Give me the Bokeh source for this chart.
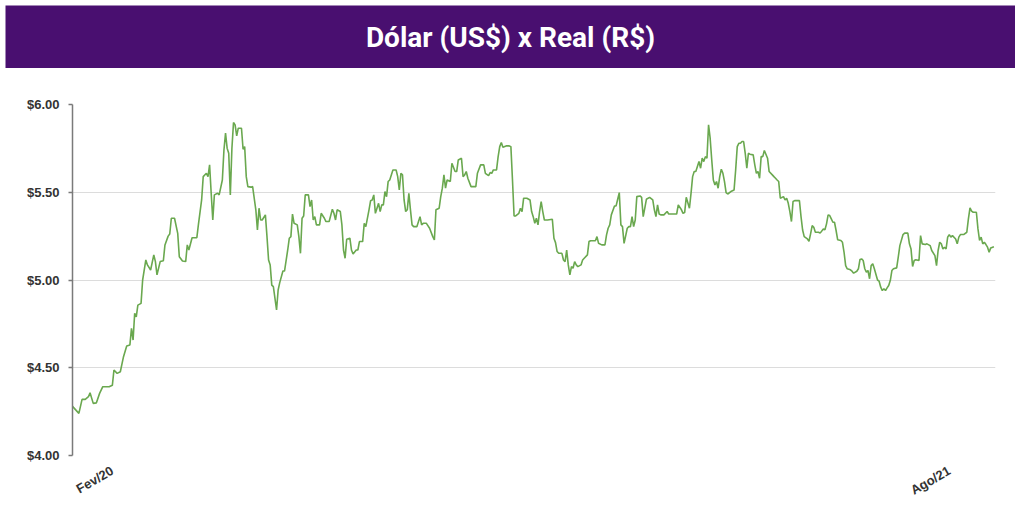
import pandas as pd
from math import pi
from bokeh.plotting import figure
from bokeh.models import Range1d, FixedTicker, NumeralTickFormatter, Label
from bokeh.layouts import column
from bokeh.embed import file_html
from bokeh.resources import INLINE

title_text = "Dólar (US$) x Real (R$)"
start_date = "2020-02-01"

day_offsets = [
    2, 4, 6, 8, 10, 12, 13, 15, 17, 19, 21, 25, 27, 28, 30, 32, 34, 36, 38, 39,
    40, 41, 42, 43, 45, 46, 48, 49, 51, 53, 54, 55, 57, 59, 60, 62, 63, 64, 66, 68,
    69, 71, 73, 74, 75, 77, 80, 81, 83, 84, 86, 87, 88, 89, 90, 91, 93, 94, 96, 97,
    98, 99, 100, 101, 102, 103, 104, 105, 106, 108, 109, 110, 111, 112, 114,
    115, 117, 118, 119, 120, 121, 123, 124, 125, 126, 127, 128, 130, 131, 132, 134, 135, 137, 138, 139,
    140, 141, 143, 144, 145, 146, 147, 148, 150, 151, 152, 153, 154, 155, 157, 158, 160, 161, 163, 165,
    166, 167, 168, 170, 171, 172, 173, 174, 176, 177, 178, 180, 181, 182, 184, 185, 186, 188, 189, 190,
    191, 192, 194, 195, 196, 197, 198, 199, 200, 201, 203, 205, 206, 207, 208, 209, 210, 211, 212, 213,
    214, 215, 216, 218, 220, 221, 222, 224, 226, 228, 229, 230,
    232, 233, 234, 235, 236, 237, 239, 240, 242, 243, 244, 246, 247, 248, 249, 250, 252, 255, 256, 258,
    260, 261, 263, 264, 265, 266, 268, 269, 270, 271, 272, 274, 276, 277, 278, 279, 280, 282, 283, 284,
    285, 287, 289, 290, 291, 292, 293, 294, 295, 296, 297, 298, 300, 303, 304, 305, 306, 307, 309, 310,
    311, 312, 313, 314, 315, 316, 317, 318, 319, 321, 322, 323, 325, 326, 327, 330, 331, 332, 334, 336,
    337, 338, 339, 340, 342, 343, 344, 345,
    346, 347, 348, 350, 351, 352, 353, 354, 355, 356, 358, 359, 360, 361, 362, 364, 366, 367, 368, 369,
    370, 371, 373, 375, 376, 379, 381, 382, 384, 385, 386, 387, 389, 390, 391, 392, 393, 395, 396, 397,
    398, 399, 400, 401, 402, 403, 404, 405, 406, 407, 408, 409, 410, 411, 412, 413, 415, 417, 418, 419,
    420, 421, 422, 423, 424, 425, 426, 427, 429, 430, 431, 432, 433, 434, 435, 436, 438, 439, 441, 442,
    443, 444, 445, 446, 448, 449, 450, 451, 452, 453, 454, 455, 458, 459, 460, 461,
    463, 464, 465, 466, 467, 468, 470, 471, 473, 474, 475, 476, 477, 478, 479, 480, 481, 482, 484, 485,
    486, 487, 488, 490, 491, 492, 494, 495, 496, 497, 498, 499, 500, 501, 502, 503, 504, 505, 507, 508,
    509, 510, 511, 512, 513, 514, 515, 516, 517, 519, 520, 521, 523, 524, 526, 527, 528, 529, 530, 531,
    533, 534, 535, 537, 538, 540, 541, 543, 544, 545, 546, 547, 548, 549, 550, 551, 552, 553, 554, 556,
    557, 558, 559, 561, 563, 564, 565, 566, 567, 569, 570, 571, 572, 573, 574, 575, 576, 577, 578, 580,
]

usd_brl = [
    4.28, 4.26, 4.24, 4.32, 4.32, 4.335, 4.357, 4.297, 4.30, 4.354, 4.392, 4.392, 4.40, 4.487, 4.468, 4.477, 4.563, 4.624, 4.63, 4.724,
    4.658, 4.81, 4.79, 4.857, 4.867, 5.00, 5.114, 5.086, 5.057, 5.143, 5.105, 5.029, 5.105, 5.11, 5.20, 5.25, 5.262, 5.352, 5.352, 5.266,
    5.133, 5.108, 5.105, 5.20, 5.171, 5.241, 5.241, 5.317, 5.456, 5.589, 5.608, 5.589, 5.656, 5.494, 5.342, 5.485, 5.494, 5.485, 5.57, 5.741,
    5.837, 5.751, 5.722, 5.485, 5.751, 5.897, 5.884, 5.821, 5.865, 5.865, 5.745, 5.76, 5.589, 5.532, 5.529,
    5.532, 5.40, 5.285, 5.409, 5.342, 5.342, 5.371, 5.247, 5.114, 5.086, 4.971, 4.962, 4.829, 4.943, 4.985, 5.051, 5.051, 5.171, 5.238, 5.247,
    5.376, 5.323, 5.314, 5.247, 5.152, 5.352, 5.365, 5.485, 5.485, 5.418, 5.456, 5.342, 5.361, 5.314, 5.314, 5.38, 5.352, 5.333, 5.333, 5.403,
    5.38, 5.342, 5.40, 5.39, 5.314, 5.171, 5.124, 5.232, 5.238, 5.171, 5.148, 5.171, 5.171, 5.219, 5.219, 5.323, 5.304, 5.40, 5.452, 5.456,
    5.485, 5.38, 5.437, 5.39, 5.428, 5.428, 5.504, 5.475, 5.561, 5.57, 5.627, 5.627, 5.589, 5.513, 5.608, 5.599, 5.456, 5.39, 5.40, 5.494,
    5.40, 5.314, 5.304, 5.304, 5.361, 5.314, 5.323, 5.323, 5.295, 5.247, 5.228, 5.40,
    5.409, 5.475, 5.523, 5.599, 5.523, 5.57, 5.561, 5.665, 5.618, 5.618, 5.684, 5.694, 5.589, 5.599, 5.618, 5.58, 5.532, 5.532, 5.608, 5.656,
    5.656, 5.608, 5.595, 5.612, 5.608, 5.627, 5.627, 5.703, 5.76, 5.783, 5.757, 5.764, 5.764, 5.76, 5.57, 5.365, 5.365, 5.38, 5.409, 5.39,
    5.466, 5.466, 5.456, 5.39, 5.361, 5.323, 5.352, 5.314, 5.39, 5.447, 5.39, 5.342, 5.342, 5.346, 5.238, 5.213, 5.162, 5.152, 5.152, 5.114,
    5.105, 5.171, 5.086, 5.029, 5.076, 5.067, 5.105, 5.086, 5.076, 5.086, 5.114, 5.124, 5.143, 5.219, 5.224, 5.224, 5.247, 5.209, 5.20, 5.20,
    5.257, 5.295, 5.314, 5.371, 5.422, 5.422, 5.46, 5.498,
    5.314, 5.304, 5.209, 5.295, 5.304, 5.304, 5.361, 5.304, 5.342, 5.475, 5.479, 5.471, 5.361, 5.409, 5.46, 5.471, 5.456, 5.40, 5.361, 5.428,
    5.376, 5.371, 5.371, 5.39, 5.376, 5.376, 5.376, 5.428, 5.40, 5.38, 5.384, 5.471, 5.409, 5.494, 5.589, 5.618, 5.618, 5.675, 5.637, 5.694,
    5.675, 5.703, 5.694, 5.884, 5.808, 5.684, 5.57, 5.542, 5.561, 5.523, 5.589, 5.631, 5.608, 5.561, 5.498, 5.49, 5.504, 5.513, 5.627, 5.76,
    5.779, 5.779, 5.789, 5.789, 5.722, 5.637, 5.722, 5.717, 5.713, 5.656, 5.608, 5.618, 5.58, 5.703, 5.703, 5.738, 5.694, 5.618, 5.599, 5.589,
    5.58, 5.57, 5.561, 5.466, 5.475, 5.456, 5.466, 5.437, 5.39, 5.333, 5.447, 5.452, 5.452, 5.361, 5.285, 5.247,
    5.234, 5.221, 5.263, 5.31, 5.30, 5.272, 5.272, 5.267, 5.291, 5.286, 5.32, 5.371, 5.367, 5.348, 5.329, 5.329, 5.282, 5.229, 5.225, 5.215,
    5.158, 5.082, 5.064, 5.058, 5.05, 5.039, 5.05, 5.064, 5.117, 5.12, 5.111, 5.064, 5.045, 5.054, 5.007, 5.082, 5.092, 5.064, 5.00, 4.993,
    4.959, 4.94, 4.95, 4.94, 4.955, 4.969, 4.997, 5.054, 5.064, 5.069, 5.13, 5.196, 5.259, 5.267, 5.267, 5.206, 5.177, 5.077, 5.111, 5.115,
    5.111, 5.253, 5.206, 5.202, 5.206, 5.196, 5.168, 5.139, 5.082, 5.168, 5.215, 5.206, 5.177, 5.187, 5.177, 5.244, 5.259, 5.244, 5.253, 5.234,
    5.206, 5.244, 5.259, 5.259, 5.272, 5.348, 5.411, 5.392, 5.386, 5.386, 5.291, 5.225, 5.244, 5.206, 5.215, 5.202, 5.187, 5.158, 5.183, 5.19,
]

y_ticks = [4.0, 4.5, 5.0, 5.5, 6.0]
x_tick_dates = ["2020-02-28", "2021-08-06"]
x_tick_labels = ["Fev/20", "Ago/21"]

dates = pd.Timestamp(start_date) + pd.to_timedelta(day_offsets, unit="D")
tick_ms = [int(pd.Timestamp(d).value // 10**6) for d in x_tick_dates]

PURPLE = "#490f70"

# Title bar (5px inset from the page corner, like the reference)
t = figure(width=1010, height=63, output_backend="svg", toolbar_location=None,
           x_axis_type=None, y_axis_type=None, x_range=Range1d(0, 1), y_range=Range1d(0, 1),
           min_border=0, background_fill_color=PURPLE, border_fill_color=PURPLE,
           margin=(5, 0, 0, 5))
t.frame_align = False
t.outline_line_color = None
t.add_layout(Label(x=0.5, y=0.5, text=title_text,
                   text_align="center", text_baseline="middle",
                   text_color="white", text_font="Roboto", text_font_style="bold",
                   text_font_size="28px"))

# Chart
p = figure(width=1015, height=450, output_backend="svg", toolbar_location=None,
           x_axis_type="datetime",
           x_range=Range1d(dates[0], dates[-1] + pd.Timedelta(days=1)),
           y_range=Range1d(4.0, 6.0),
           min_border_left=72, min_border_right=20, min_border_top=36, min_border_bottom=63)
p.frame_align = False
p.outline_line_color = None
p.background_fill_color = "white"

p.line(dates, usd_brl, line_color="#6aa84f", line_width=1.6)

p.xgrid.visible = False
p.ygrid.grid_line_color = "#dcdcdc"
p.ygrid.grid_line_width = 1

p.yaxis.ticker = FixedTicker(ticks=y_ticks)
p.yaxis.formatter = NumeralTickFormatter(format="$0.00")
p.yaxis.axis_line_color = "#7a7a7a"
p.yaxis.axis_line_width = 1.5
p.yaxis.major_tick_line_color = "#7a7a7a"
p.yaxis.major_tick_line_width = 1.5
p.yaxis.major_tick_out = 4
p.yaxis.major_tick_in = 0
p.yaxis.minor_tick_line_color = None
p.yaxis.major_label_standoff = 9
p.yaxis.major_label_text_font = "Liberation Sans"
p.yaxis.major_label_text_font_style = "bold"
p.yaxis.major_label_text_font_size = "13px"
p.yaxis.major_label_text_color = "#333333"

p.xaxis.ticker = FixedTicker(ticks=tick_ms)
p.xaxis.major_label_overrides = {ms: lab for ms, lab in zip(tick_ms, x_tick_labels)}
p.xaxis.axis_line_color = None
p.xaxis.major_tick_line_color = None
p.xaxis.minor_tick_line_color = None
p.xaxis.major_label_orientation = pi / 6
p.xaxis.major_label_standoff = 8
p.xaxis.major_label_text_font = "Liberation Sans"
p.xaxis.major_label_text_font_style = "bold"
p.xaxis.major_label_text_font_size = "13px"
p.xaxis.major_label_text_color = "#333333"

layout = column(t, p, spacing=0)
open("out.html", "w").write(file_html(layout, INLINE))
